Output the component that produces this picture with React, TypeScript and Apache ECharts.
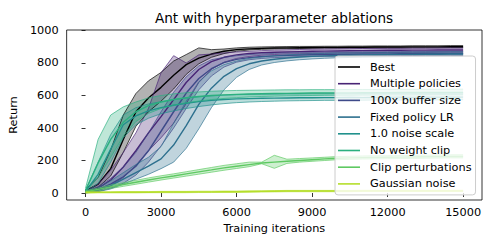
import React, { useEffect, useRef } from "react";
import * as echarts from "echarts";

const T = [0, 500, 1000, 1500, 2000, 2500, 3000, 3500, 4000, 4500, 5000, 5500, 6000, 6500, 7000, 7500, 8000, 8500, 9000, 9500, 10000, 10500, 11000, 11500, 12000, 12500, 13000, 13500, 14000, 14500, 15000];

const NAMES = ["Best", "Multiple policies", "100x buffer size", "Fixed policy LR", "1.0 noise scale", "No weight clip", "Clip perturbations", "Gaussian noise"];
const COLORS = ["#000000", "#482475", "#3e4a89", "#2d708e", "#21918c", "#2bb07f", "#5ec962", "#b5de2b"];

const bestMean = [12, 55, 150, 330, 500, 585, 650, 725, 790, 830, 855, 872, 882, 887, 890, 892, 893, 894, 895, 896, 896, 897, 897, 898, 898, 898, 899, 899, 899, 900, 900];
const bestLo = [5, 35, 105, 250, 410, 500, 565, 640, 730, 795, 835, 858, 872, 880, 884, 886, 888, 889, 890, 891, 891, 892, 892, 893, 893, 893, 894, 894, 894, 895, 895];
const bestHi = [22, 95, 265, 480, 612, 690, 742, 812, 852, 893, 882, 886, 893, 897, 899, 900, 901, 902, 902, 903, 903, 904, 904, 905, 905, 905, 906, 906, 906, 907, 907];

const multiMean = [6, 30, 80, 160, 260, 370, 470, 575, 680, 760, 808, 835, 850, 858, 863, 866, 868, 870, 872, 873, 874, 875, 876, 877, 878, 878, 879, 879, 880, 880, 880];
const multiLo = [2, 15, 45, 95, 170, 260, 340, 430, 550, 680, 760, 805, 828, 840, 848, 852, 855, 857, 859, 860, 861, 862, 863, 864, 865, 865, 866, 866, 867, 867, 867];
const multiHi = [12, 55, 140, 250, 370, 520, 740, 845, 800, 850, 855, 862, 868, 872, 876, 879, 881, 883, 885, 886, 887, 888, 889, 889, 890, 890, 891, 891, 892, 892, 892];

const bufMean = [5, 22, 55, 100, 165, 260, 380, 500, 615, 705, 765, 802, 822, 833, 840, 844, 847, 849, 851, 852, 853, 854, 855, 856, 856, 857, 857, 858, 858, 858, 858];
const bufLo = [1, 10, 30, 60, 110, 190, 290, 400, 520, 635, 720, 775, 805, 820, 828, 833, 836, 838, 840, 841, 842, 843, 844, 845, 845, 846, 846, 847, 847, 847, 847];
const bufHi = [10, 40, 90, 160, 250, 370, 500, 620, 715, 782, 820, 835, 845, 852, 856, 859, 862, 864, 865, 866, 867, 868, 869, 869, 870, 870, 871, 871, 871, 872, 872];

const lrMean = [4, 18, 45, 85, 125, 165, 210, 295, 415, 545, 645, 718, 765, 795, 812, 823, 831, 837, 841, 844, 846, 848, 850, 851, 852, 853, 853, 854, 854, 855, 855];
const lrLo = [0, 8, 25, 55, 85, 115, 150, 190, 275, 395, 525, 635, 712, 760, 788, 803, 813, 820, 825, 829, 832, 834, 836, 837, 838, 839, 840, 840, 841, 841, 842];
const lrHi = [8, 32, 75, 125, 175, 220, 285, 430, 565, 685, 752, 790, 812, 828, 838, 845, 850, 854, 857, 859, 861, 862, 863, 864, 865, 866, 866, 867, 867, 868, 868];

const noiseMean = [10, 115, 270, 420, 475, 505, 525, 540, 552, 562, 570, 575, 579, 581, 583, 584, 585, 586, 586, 587, 587, 588, 587, 588, 588, 589, 588, 589, 589, 589, 590];
const noiseLo = [4, 60, 190, 340, 420, 460, 488, 505, 520, 532, 542, 550, 556, 560, 563, 565, 567, 568, 569, 570, 570, 571, 571, 572, 572, 572, 573, 573, 573, 574, 574];
const noiseHi = [18, 190, 360, 480, 525, 548, 562, 574, 584, 592, 598, 602, 605, 607, 608, 609, 610, 610, 611, 611, 612, 612, 612, 613, 613, 613, 614, 614, 614, 614, 615];

const clipMean = [15, 185, 330, 435, 500, 538, 560, 575, 586, 594, 600, 604, 607, 609, 611, 612, 613, 614, 615, 615, 616, 616, 617, 617, 617, 618, 618, 618, 618, 619, 619];
const clipLo = [6, 95, 220, 350, 440, 490, 520, 540, 555, 566, 575, 582, 587, 591, 594, 596, 598, 599, 600, 601, 602, 602, 603, 603, 604, 604, 604, 605, 605, 605, 605];
const clipHi = [30, 330, 480, 530, 560, 585, 600, 610, 617, 622, 626, 629, 631, 632, 633, 634, 635, 635, 636, 636, 636, 637, 637, 637, 638, 638, 638, 638, 638, 639, 639];

const pertMean = [8, 22, 38, 52, 66, 80, 93, 105, 118, 130, 142, 155, 165, 175, 185, 190, 195, 200, 205, 210, 214, 216, 218, 219, 220, 221, 222, 223, 224, 225, 225];
const pertLo = [3, 14, 28, 41, 54, 67, 80, 92, 104, 116, 128, 140, 151, 162, 180, 152, 182, 190, 195, 200, 205, 207, 209, 210, 211, 212, 213, 214, 215, 216, 216];
const pertHi = [14, 30, 48, 63, 78, 93, 106, 118, 131, 144, 157, 170, 180, 190, 190, 232, 208, 212, 216, 220, 224, 226, 228, 229, 230, 231, 232, 233, 234, 235, 235];

const gaussMean = [3, 4, 4, 5, 5, 5, 6, 6, 6, 7, 7, 8, 8, 9, 10, 11, 12, 12, 12, 12, 12, 12, 13, 13, 13, 13, 13, 13, 13, 13, 13];
const gaussLo = [0, 1, 1, 1, 1, 2, 2, 2, 2, 3, 3, 4, 4, 5, 6, 7, 8, 8, 8, 8, 8, 8, 9, 9, 9, 9, 9, 9, 9, 9, 9];
const gaussHi = [7, 8, 8, 9, 9, 9, 10, 10, 10, 11, 11, 12, 12, 13, 14, 15, 16, 16, 16, 16, 16, 16, 17, 17, 17, 17, 17, 17, 17, 17, 17];

const X_TICKS = [0, 3000, 6000, 9000, 12000, 15000];
const Y_TICKS = [0, 200, 400, 600, 800, 1000];

const GROUPS = [
  { mean: bestMean, lo: bestLo, hi: bestHi },
  { mean: multiMean, lo: multiLo, hi: multiHi },
  { mean: bufMean, lo: bufLo, hi: bufHi },
  { mean: lrMean, lo: lrLo, hi: lrHi },
  { mean: noiseMean, lo: noiseLo, hi: noiseHi },
  { mean: clipMean, lo: clipLo, hi: clipHi },
  { mean: pertMean, lo: pertLo, hi: pertHi },
  { mean: gaussMean, lo: gaussLo, hi: gaussHi },
];

const FONT = "DejaVu Sans";
const FS = 11.3;

export default function App() {
  const ref = useRef<HTMLDivElement>(null);
  useEffect(() => {
    document.body.style.margin = "0";
    const chart = echarts.init(ref.current!, null, { renderer: "svg" });
    const series: any[] = [];
    GROUPS.forEach((g, i) => {
      const color = COLORS[i];
      series.push({
        type: "custom",
        name: NAMES[i] + " range",
        silent: true,
        clip: true,
        data: T.map((t, k) => [t, g.lo[k], g.hi[k]]),
        encode: { x: 0, y: [1, 2] },
        renderItem: (params: any, api: any) => {
          if (params.dataIndex !== 0) return null;
          const upper = T.map((t, k) => api.coord([t, g.hi[k]]));
          const lower = T.map((t, k) => api.coord([t, g.lo[k]])).reverse();
          return {
            type: "polygon",
            shape: { points: upper.concat(lower) },
            style: { fill: color, opacity: 0.3 },
          };
        },
      });
      series.push({
        type: "line",
        name: NAMES[i] + " lower",
        data: T.map((t, k) => [t, g.lo[k]]),
        symbol: "none",
        silent: true,
        lineStyle: { color, width: 0.8, opacity: 0.85 },
        itemStyle: { color },
      });
      series.push({
        type: "line",
        name: NAMES[i] + " upper",
        data: T.map((t, k) => [t, g.hi[k]]),
        symbol: "none",
        silent: true,
        lineStyle: { color, width: 0.8, opacity: 0.85 },
        itemStyle: { color },
      });
      series.push({
        type: "line",
        name: NAMES[i],
        data: T.map((t, k) => [t, g.mean[k]]),
        symbol: "none",
        lineStyle: { color, width: 1.4 },
        itemStyle: { color },
      });
    });

    chart.setOption({
      animation: false,
      textStyle: { fontFamily: FONT },
      grid: { left: 66, top: 30, width: 416, height: 170, show: true, borderColor: "#000", borderWidth: 0.8, backgroundColor: "transparent" },
      xAxis: {
        type: "value",
        min: -750,
        max: 15750,
        name: "Training iterations",
        nameLocation: "middle",
        nameGap: 22,
        nameTextStyle: { fontSize: FS, color: "#000", fontFamily: FONT },
        axisLine: { show: false },
        splitLine: { show: false },
        axisTick: { show: true, length: 4, lineStyle: { color: "#000", width: 0.8 }, customValues: X_TICKS },
        axisLabel: { fontSize: FS, color: "#000", margin: 7, fontFamily: FONT, customValues: X_TICKS, formatter: (v: number) => String(v) },
      },
      yAxis: {
        type: "value",
        min: -43,
        max: 1003,
        name: "Return",
        nameLocation: "middle",
        nameGap: 38,
        nameTextStyle: { fontSize: FS, color: "#000", fontFamily: FONT },
        axisLine: { show: false },
        splitLine: { show: false },
        axisTick: { show: true, length: 4, lineStyle: { color: "#000", width: 0.8 }, customValues: Y_TICKS },
        axisLabel: { fontSize: FS, color: "#000", margin: 8, fontFamily: FONT, customValues: Y_TICKS, formatter: (v: number) => String(v) },
      },
      legend: {
        data: NAMES,
        orient: "vertical",
        left: 335,
        top: 56,
        icon: "rect",
        itemWidth: 22,
        itemHeight: 1.6,
        itemGap: 2.7,
        padding: [4, 4, 4, 3],
        backgroundColor: "rgba(255,255,255,0.8)",
        borderColor: "#cccccc",
        borderWidth: 1,
        borderRadius: 3,
        textStyle: { fontSize: FS, color: "#000", fontFamily: FONT, lineHeight: 14, padding: [0, 0, 0, 5] },
        selectedMode: false,
      },
      graphic: [
        {
          type: "text",
          x: 274,
          y: 18,
          style: { text: "Ant with hyperparameter ablations", font: `13.6px "${FONT}"`, fill: "#000", textAlign: "center", textVerticalAlign: "middle" },
        },
      ],
      series,
    });
    return () => chart.dispose();
  }, []);
  return <div ref={ref} style={{ width: 496, height: 248 }} />;
}
